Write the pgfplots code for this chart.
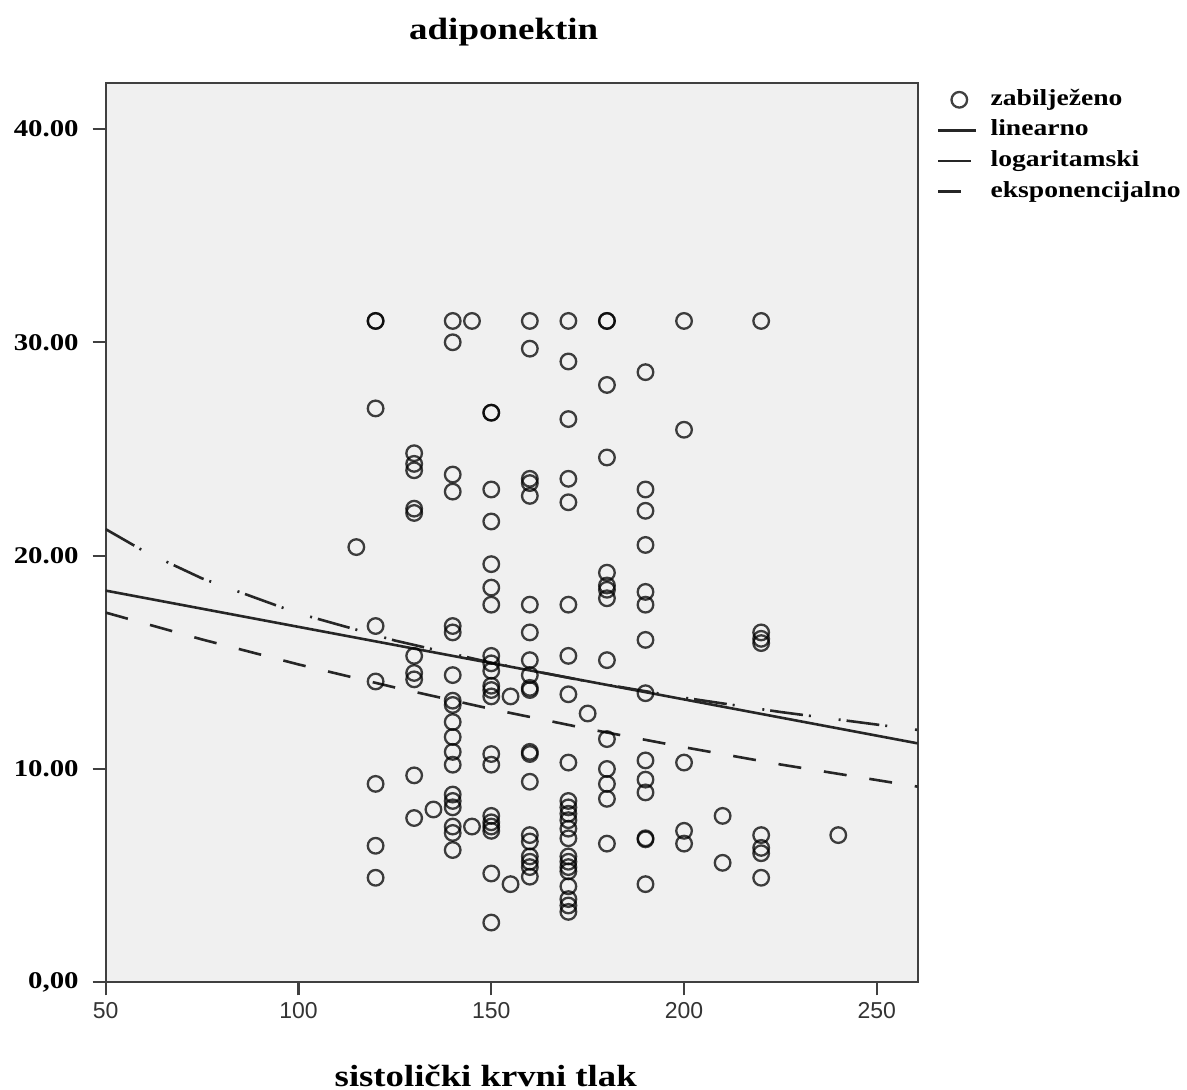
\documentclass[border=0pt]{standalone}
\usepackage{pgfplots}
\pgfplotsset{compat=1.18}
\usepackage{fontspec}
\newfontfamily\tnr{Liberation Serif}[FakeStretch=1.2]
\newfontfamily\arl{Liberation Sans}
\definecolor{bg}{RGB}{240,240,240}
\definecolor{ax}{RGB}{64,64,64}
\pgfplotstableread{
x y
115 20.4
120 31.0
120 31.0
120 26.9
120 16.7
120 14.1
120 9.3
120 6.4
120 4.9
130 24.8
130 24.3
130 24.0
130 22.2
130 22.0
130 15.3
130 14.5
130 14.2
130 9.7
130 7.7
135 8.1
140 31.0
140 30.0
140 23.8
140 23.0
140 16.7
140 16.4
140 14.4
140 13.2
140 13.0
140 12.2
140 11.5
140 10.8
140 10.2
140 8.8
140 8.5
140 8.2
140 7.3
140 7.0
140 6.2
145 31.0
145 7.3
150 26.7
150 26.7
150 23.1
150 21.6
150 19.6
150 18.5
150 17.7
150 15.3
150 14.95
150 14.6
150 13.9
150 13.7
150 13.4
150 10.7
150 10.2
150 7.8
150 7.5
150 7.3
150 7.1
150 5.1
150 2.8
155 13.4
155 4.6
160 31.0
160 29.7
160 23.6
160 23.4
160 22.8
160 17.7
160 16.4
160 15.1
160 14.4
160 13.8
160 13.7
160 10.8
160 10.7
160 9.4
160 6.9
160 6.6
160 5.9
160 5.65
160 5.4
160 4.95
170 31.0
170 29.1
170 26.4
170 23.6
170 22.5
170 17.7
170 15.3
170 13.5
170 10.3
170 8.5
170 8.2
170 7.9
170 7.6
170 7.2
170 6.75
170 5.9
170 5.65
170 5.4
170 5.2
170 4.5
170 3.9
170 3.6
170 3.3
175 12.6
180 31.0
180 31.0
180 28.0
180 24.6
180 19.2
180 18.6
180 18.4
180 18.0
180 15.1
180 11.4
180 10.0
180 9.3
180 8.6
180 6.5
190 28.6
190 23.1
190 22.1
190 20.5
190 18.3
190 17.7
190 16.05
190 13.55
190 10.4
190 9.5
190 8.9
190 6.75
190 6.7
190 4.6
200 31.0
200 25.9
200 10.3
200 7.1
200 6.5
210 7.8
210 5.6
220 31.0
220 16.4
220 16.1
220 15.9
220 6.9
220 6.3
220 6.05
220 4.9
240 6.9
}\obs
\begin{document}
\begin{tikzpicture}
\begin{axis}[name=main,
  scale only axis, width=406pt, height=449.5pt,
  xmin=50, xmax=260.6, ymin=0, ymax=42.14,
  axis background/.style={fill=bg},
  axis line style={ax, line width=1.1pt},
  tick align=outside, tick pos=left, major tick length=6.5pt,
  tick style={ax, line width=1.1pt},
  /pgf/number format/assume math mode=true,
  xtick={50,100,150,200,250},
  ytick={0,10,20,30,40},
  yticklabels={{0,00},10.00,20.00,30.00,40.00},
  xticklabel style={font=\arl\fontsize{11.5}{13}\selectfont, text=black!80},
  yticklabel style={font=\tnr\bfseries\fontsize{12}{14}\selectfont, xshift=-3.5pt},
  title={adiponektin},
  title style={font=\tnr\bfseries\fontsize{15.4}{18}\selectfont, at={(0.5,1)}, anchor=base, yshift=16pt, xshift=-4pt},
  xlabel={sistolički krvni tlak},
  xlabel style={font=\tnr\bfseries\fontsize{15.3}{18}\selectfont, at={(0.5,0)}, anchor=base, yshift=-52pt, xshift=-13pt},
  legend style={at={(1,1)}, anchor=north west, xshift=9.65pt, yshift=-1pt, draw=none, fill=none, inner sep=0pt, outer sep=0pt, row sep=0.8pt, font=\tnr\bfseries\fontsize{11.5}{13}\selectfont, nodes={inner sep=2pt, text height=8pt, text depth=2.5pt}, /tikz/every odd column/.append style={column sep=4.5pt}},
  legend cell align=left,
  legend image code/.code={\draw[mark repeat=2,mark phase=2,#1] plot coordinates {(0pt,0pt) (10.5pt,0pt) (19pt,0pt)};},
]
\addplot[only marks, mark=o, mark size=3.9pt, mark options={draw=black, draw opacity=0.75, line width=1.15pt}] table[x=x, y=y] {\obs};
\addlegendentry{zabilježeno}
\addplot[black!85, line width=1.3pt] coordinates {(50,18.36) (260.6,11.2)};
\addlegendentry{linearno}
\addplot[black!85, line width=1.3pt, dash pattern=on 16.5pt off 3pt on 1pt off 14pt on 1pt off 3pt] coordinates {
(50,21.24) (60,20.20) (75,18.93) (100,17.29) (125,16.02) (150,14.98) (175,14.10) (200,13.34) (225,12.67) (260.6,11.83)};
\addlegendentry{logaritamski}
\addplot[black!85, line width=1.3pt, dash pattern=on 11.5pt off 11.5pt] coordinates {
(50,17.33) (75,16.07) (100,14.90) (125,13.82) (150,12.81) (175,11.88) (200,11.02) (225,10.21) (260.6,9.17)};
\addlegendentry{eksponencijalno}
\end{axis}
\pgfresetboundingbox
\path ([shift={(-52.85pt,-53.85pt)}]main.south west) rectangle ++(593.5pt,545pt);
\end{tikzpicture}
\end{document}
